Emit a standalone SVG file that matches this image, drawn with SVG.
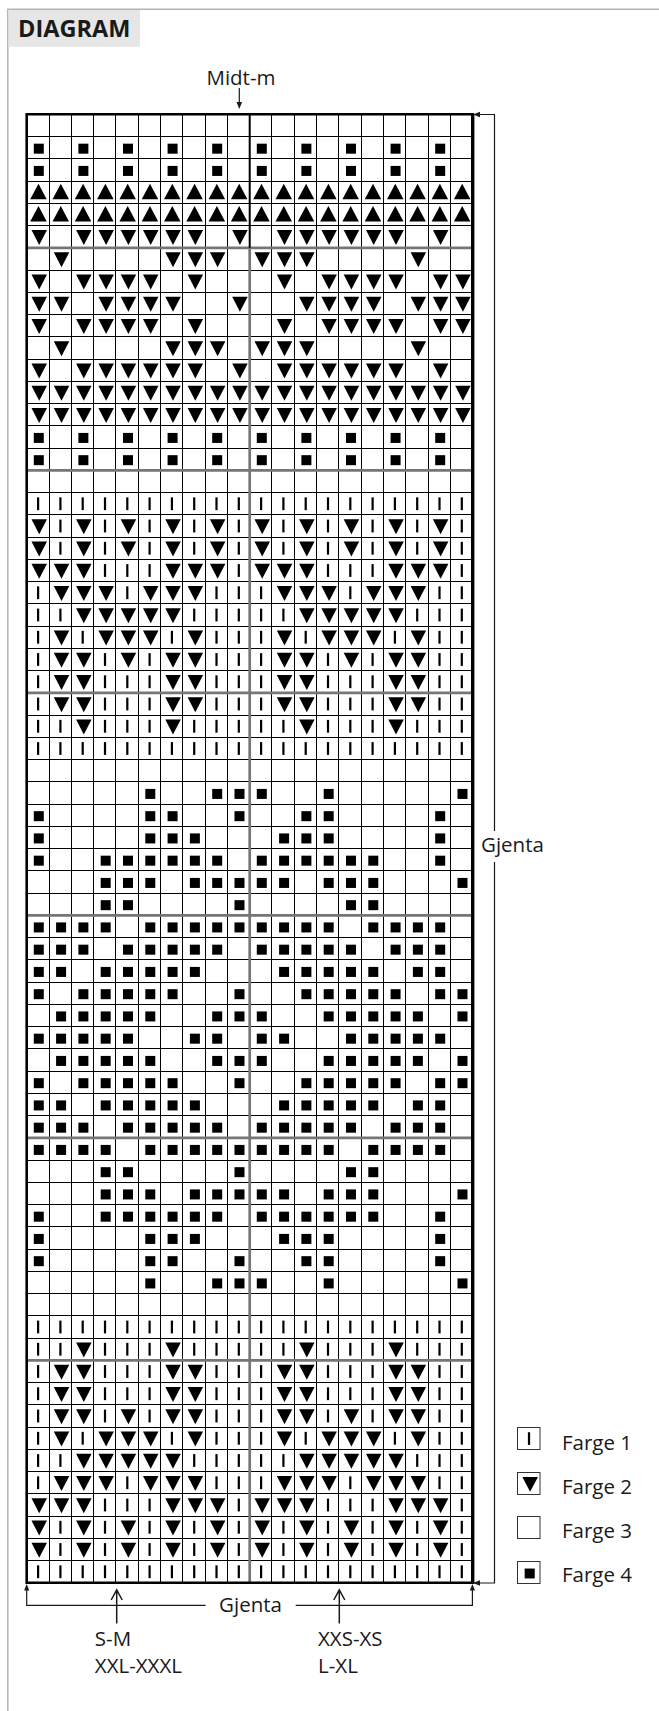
<svg xmlns="http://www.w3.org/2000/svg" width="659" height="1711" viewBox="0 0 659 1711">
<style>
text{font-family:"Open Sans","Liberation Sans",sans-serif;fill:#1a1a1a}
.lbl{font-size:20.5px}
.ln{fill:none;stroke:#000;vector-effect:non-scaling-stroke}
.gl{fill:none;stroke:#767676;vector-effect:non-scaling-stroke}
.conn{fill:none;stroke:#1a1a1a;stroke-width:1.2}
.arr{fill:none;stroke:#1a1a1a;stroke-width:1.5}
.ah{fill:#1a1a1a}
.lbox{fill:#fff;stroke:#333;stroke-width:1}
</style>
<defs>
<rect id="S" x="0.318" y="0.32" width="0.448" height="0.45"/>
<polygon id="D" points="0.215,0.202 0.91,0.202 0.561,0.876"/>
<polygon id="U" points="0.157,0.822 0.897,0.822 0.529,0.126"/>
<rect id="B" x="0.462" y="0.216" width="0.099" height="0.575"/>
<g id="hE"><use href="#S"/><use href="#S" x="2"/><use href="#S" x="4"/><use href="#S" x="6"/><use href="#S" x="8"/></g>
<g id="hU"><use href="#U"/><use href="#U" x="1"/><use href="#U" x="2"/><use href="#U" x="3"/><use href="#U" x="4"/><use href="#U" x="5"/><use href="#U" x="6"/><use href="#U" x="7"/><use href="#U" x="8"/><use href="#U" x="9"/></g>
<g id="hD"><use href="#D"/><use href="#D" x="1"/><use href="#D" x="2"/><use href="#D" x="3"/><use href="#D" x="4"/><use href="#D" x="5"/><use href="#D" x="6"/><use href="#D" x="7"/><use href="#D" x="8"/><use href="#D" x="9"/></g>
<g id="hB"><use href="#B"/><use href="#B" x="1"/><use href="#B" x="2"/><use href="#B" x="3"/><use href="#B" x="4"/><use href="#B" x="5"/><use href="#B" x="6"/><use href="#B" x="7"/><use href="#B" x="8"/><use href="#B" x="9"/></g>
<g id="h18"><use href="#D"/><use href="#B" x="1"/><use href="#D" x="2"/><use href="#B" x="3"/><use href="#D" x="4"/><use href="#B" x="5"/><use href="#D" x="6"/><use href="#B" x="7"/><use href="#D" x="8"/><use href="#B" x="9"/></g>
<g id="h20"><use href="#D"/><use href="#D" x="1"/><use href="#D" x="2"/><use href="#B" x="3"/><use href="#B" x="4"/><use href="#B" x="5"/><use href="#D" x="6"/><use href="#D" x="7"/><use href="#D" x="8"/><use href="#B" x="9"/></g>
<g id="h21"><use href="#B"/><use href="#D" x="1"/><use href="#D" x="2"/><use href="#D" x="3"/><use href="#B" x="4"/><use href="#D" x="5"/><use href="#D" x="6"/><use href="#D" x="7"/><use href="#B" x="8"/><use href="#B" x="9"/></g>
<g id="h22"><use href="#B"/><use href="#B" x="1"/><use href="#D" x="2"/><use href="#D" x="3"/><use href="#D" x="4"/><use href="#D" x="5"/><use href="#D" x="6"/><use href="#B" x="7"/><use href="#B" x="8"/><use href="#B" x="9"/></g>
<g id="h23"><use href="#B"/><use href="#D" x="1"/><use href="#B" x="2"/><use href="#D" x="3"/><use href="#D" x="4"/><use href="#D" x="5"/><use href="#B" x="6"/><use href="#D" x="7"/><use href="#B" x="8"/><use href="#B" x="9"/></g>
<g id="h24"><use href="#B"/><use href="#D" x="1"/><use href="#D" x="2"/><use href="#B" x="3"/><use href="#D" x="4"/><use href="#B" x="5"/><use href="#D" x="6"/><use href="#D" x="7"/><use href="#B" x="8"/><use href="#B" x="9"/></g>
<g id="h25"><use href="#B"/><use href="#D" x="1"/><use href="#D" x="2"/><use href="#B" x="3"/><use href="#B" x="4"/><use href="#B" x="5"/><use href="#D" x="6"/><use href="#D" x="7"/><use href="#B" x="8"/><use href="#B" x="9"/></g>
<g id="h27"><use href="#B"/><use href="#B" x="1"/><use href="#D" x="2"/><use href="#B" x="3"/><use href="#B" x="4"/><use href="#B" x="5"/><use href="#D" x="6"/><use href="#B" x="7"/><use href="#B" x="8"/><use href="#B" x="9"/></g>
<g id="fE"><use href="#hE"/><use href="#hE" x="10"/></g>
<g id="fU"><use href="#hU"/><use href="#hU" x="10"/></g>
<g id="fD"><use href="#hD"/><use href="#hD" x="10"/></g>
<g id="f17"><use href="#hB"/><use href="#hB" x="10"/></g>
<g id="f18"><use href="#h18"/><use href="#h18" x="10"/></g>
<g id="f20"><use href="#h20"/><use href="#h20" x="10"/></g>
<g id="f21"><use href="#h21"/><use href="#h21" x="10"/></g>
<g id="f22"><use href="#h22"/><use href="#h22" x="10"/></g>
<g id="f23"><use href="#h23"/><use href="#h23" x="10"/></g>
<g id="f24"><use href="#h24"/><use href="#h24" x="10"/></g>
<g id="f25"><use href="#h25"/><use href="#h25" x="10"/></g>
<g id="f27"><use href="#h27"/><use href="#h27" x="10"/></g>
<g id="rA"><use href="#D"/><use href="#D" x="2"/><use href="#D" x="3"/><use href="#D" x="4"/><use href="#D" x="5"/><use href="#D" x="6"/><use href="#D" x="7"/><use href="#D" x="9"/><use href="#D" x="11"/><use href="#D" x="12"/><use href="#D" x="13"/><use href="#D" x="14"/><use href="#D" x="15"/><use href="#D" x="16"/><use href="#D" x="18"/></g>
<g id="rB"><use href="#D" x="1"/><use href="#D" x="6"/><use href="#D" x="7"/><use href="#D" x="8"/><use href="#D" x="10"/><use href="#D" x="11"/><use href="#D" x="12"/><use href="#D" x="17"/></g>
<g id="rC"><use href="#D"/><use href="#D" x="2"/><use href="#D" x="3"/><use href="#D" x="4"/><use href="#D" x="5"/><use href="#D" x="7"/><use href="#D" x="11"/><use href="#D" x="13"/><use href="#D" x="14"/><use href="#D" x="15"/><use href="#D" x="16"/><use href="#D" x="18"/><use href="#D" x="19"/></g>
<g id="rD"><use href="#D"/><use href="#D" x="1"/><use href="#D" x="3"/><use href="#D" x="4"/><use href="#D" x="5"/><use href="#D" x="6"/><use href="#D" x="9"/><use href="#D" x="12"/><use href="#D" x="13"/><use href="#D" x="14"/><use href="#D" x="15"/><use href="#D" x="17"/><use href="#D" x="18"/><use href="#D" x="19"/></g>
<g id="m30"><use href="#S" x="5"/><use href="#S" x="8"/><use href="#S" x="9"/><use href="#S" x="10"/><use href="#S" x="13"/><use href="#S" x="19"/></g>
<g id="m31"><use href="#S"/><use href="#S" x="5"/><use href="#S" x="6"/><use href="#S" x="9"/><use href="#S" x="12"/><use href="#S" x="13"/><use href="#S" x="18"/></g>
<g id="m32"><use href="#S"/><use href="#S" x="5"/><use href="#S" x="6"/><use href="#S" x="7"/><use href="#S" x="11"/><use href="#S" x="12"/><use href="#S" x="13"/><use href="#S" x="18"/></g>
<g id="m33"><use href="#S"/><use href="#S" x="3"/><use href="#S" x="4"/><use href="#S" x="5"/><use href="#S" x="6"/><use href="#S" x="7"/><use href="#S" x="8"/><use href="#S" x="10"/><use href="#S" x="11"/><use href="#S" x="12"/><use href="#S" x="13"/><use href="#S" x="14"/><use href="#S" x="15"/><use href="#S" x="18"/></g>
<g id="m34"><use href="#S" x="3"/><use href="#S" x="4"/><use href="#S" x="5"/><use href="#S" x="7"/><use href="#S" x="8"/><use href="#S" x="9"/><use href="#S" x="10"/><use href="#S" x="11"/><use href="#S" x="13"/><use href="#S" x="14"/><use href="#S" x="15"/><use href="#S" x="19"/></g>
<g id="m35"><use href="#S" x="3"/><use href="#S" x="4"/><use href="#S" x="9"/><use href="#S" x="14"/><use href="#S" x="15"/></g>
<g id="m36"><use href="#S"/><use href="#S" x="1"/><use href="#S" x="2"/><use href="#S" x="3"/><use href="#S" x="5"/><use href="#S" x="6"/><use href="#S" x="7"/><use href="#S" x="8"/><use href="#S" x="9"/><use href="#S" x="10"/><use href="#S" x="11"/><use href="#S" x="12"/><use href="#S" x="13"/><use href="#S" x="15"/><use href="#S" x="16"/><use href="#S" x="17"/><use href="#S" x="18"/></g>
<g id="m37"><use href="#S"/><use href="#S" x="1"/><use href="#S" x="2"/><use href="#S" x="4"/><use href="#S" x="5"/><use href="#S" x="6"/><use href="#S" x="7"/><use href="#S" x="8"/><use href="#S" x="10"/><use href="#S" x="11"/><use href="#S" x="12"/><use href="#S" x="13"/><use href="#S" x="14"/><use href="#S" x="16"/><use href="#S" x="17"/><use href="#S" x="18"/></g>
<g id="m38"><use href="#S"/><use href="#S" x="1"/><use href="#S" x="3"/><use href="#S" x="4"/><use href="#S" x="5"/><use href="#S" x="6"/><use href="#S" x="7"/><use href="#S" x="11"/><use href="#S" x="12"/><use href="#S" x="13"/><use href="#S" x="14"/><use href="#S" x="15"/><use href="#S" x="17"/><use href="#S" x="18"/></g>
<g id="m39"><use href="#S"/><use href="#S" x="2"/><use href="#S" x="3"/><use href="#S" x="4"/><use href="#S" x="5"/><use href="#S" x="6"/><use href="#S" x="9"/><use href="#S" x="12"/><use href="#S" x="13"/><use href="#S" x="14"/><use href="#S" x="15"/><use href="#S" x="16"/><use href="#S" x="18"/><use href="#S" x="19"/></g>
<g id="m40"><use href="#S" x="1"/><use href="#S" x="2"/><use href="#S" x="3"/><use href="#S" x="4"/><use href="#S" x="5"/><use href="#S" x="8"/><use href="#S" x="9"/><use href="#S" x="10"/><use href="#S" x="13"/><use href="#S" x="14"/><use href="#S" x="15"/><use href="#S" x="16"/><use href="#S" x="17"/><use href="#S" x="19"/></g>
<g id="m41"><use href="#S"/><use href="#S" x="1"/><use href="#S" x="2"/><use href="#S" x="3"/><use href="#S" x="4"/><use href="#S" x="7"/><use href="#S" x="8"/><use href="#S" x="10"/><use href="#S" x="11"/><use href="#S" x="14"/><use href="#S" x="15"/><use href="#S" x="16"/><use href="#S" x="17"/><use href="#S" x="18"/></g>
</defs>
<rect width="659" height="1711" fill="#fff"/>
<path d="M7.8 1711V9.3H659" fill="none" stroke="#b3b3b3" stroke-width="1.5"/>
<g id="header">
<rect x="8.5" y="10" width="131.5" height="36.8" fill="#e6e6e6"/>
<text x="18" y="36.7" font-size="23.5" font-weight="bold">DIAGRAM</text>
</g>
<g id="chart" transform="translate(26.7 114.3) scale(22.3 22.25)">
<rect width="20" height="66" fill="#fff"/>
<g id="cells">
<use href="#fE" y="1"/><use href="#fE" y="2"/>
<use href="#fU" y="3"/><use href="#fU" y="4"/>
<use href="#rA" y="5"/><use href="#rB" y="6"/><use href="#rC" y="7"/><use href="#rD" y="8"/><use href="#rC" y="9"/><use href="#rB" y="10"/><use href="#rA" y="11"/>
<use href="#fD" y="12"/><use href="#fD" y="13"/>
<use href="#fE" y="14"/><use href="#fE" y="15"/>
<use href="#f17" y="17"/><use href="#f18" y="18"/><use href="#f18" y="19"/><use href="#f20" y="20"/><use href="#f21" y="21"/><use href="#f22" y="22"/><use href="#f23" y="23"/><use href="#f24" y="24"/><use href="#f25" y="25"/><use href="#f25" y="26"/><use href="#f27" y="27"/><use href="#f17" y="28"/>
<use href="#m30" y="30"/><use href="#m31" y="31"/><use href="#m32" y="32"/><use href="#m33" y="33"/><use href="#m34" y="34"/><use href="#m35" y="35"/><use href="#m36" y="36"/><use href="#m37" y="37"/><use href="#m38" y="38"/><use href="#m39" y="39"/><use href="#m40" y="40"/><use href="#m41" y="41"/>
<use href="#m40" y="42"/><use href="#m39" y="43"/><use href="#m38" y="44"/><use href="#m37" y="45"/><use href="#m36" y="46"/><use href="#m35" y="47"/><use href="#m34" y="48"/><use href="#m33" y="49"/><use href="#m32" y="50"/><use href="#m31" y="51"/><use href="#m30" y="52"/>
<use href="#f17" y="54"/><use href="#f27" y="55"/><use href="#f25" y="56"/><use href="#f25" y="57"/><use href="#f24" y="58"/><use href="#f23" y="59"/><use href="#f22" y="60"/><use href="#f21" y="61"/><use href="#f20" y="62"/><use href="#f18" y="63"/><use href="#f18" y="64"/><use href="#f17" y="65"/>
</g>
<path class="ln" stroke-width="1" shape-rendering="crispEdges" d="M1 0V66M2 0V66M3 0V66M4 0V66M5 0V66M6 0V66M7 0V66M8 0V66M9 0V66M11 0V66M12 0V66M13 0V66M14 0V66M15 0V66M16 0V66M17 0V66M18 0V66M19 0V66M0 1H20M0 2H20M0 3H20M0 4H20M0 5H20M0 7H20M0 8H20M0 9H20M0 10H20M0 11H20M0 12H20M0 13H20M0 14H20M0 15H20M0 17H20M0 18H20M0 19H20M0 20H20M0 21H20M0 22H20M0 23H20M0 24H20M0 25H20M0 27H20M0 28H20M0 29H20M0 30H20M0 31H20M0 32H20M0 33H20M0 34H20M0 35H20M0 37H20M0 38H20M0 39H20M0 40H20M0 41H20M0 42H20M0 43H20M0 44H20M0 45H20M0 47H20M0 48H20M0 49H20M0 50H20M0 51H20M0 52H20M0 53H20M0 54H20M0 55H20M0 57H20M0 58H20M0 59H20M0 60H20M0 61H20M0 62H20M0 63H20M0 64H20M0 65H20"/>
<path class="gl" stroke-width="2.7" d="M0 6H20M0 16H20M0 26H20M0 36H20M0 46H20M0 56H20M10 6V66"/>
<path class="ln" stroke-width="2" d="M10 0V6"/>
<rect class="ln" width="20" height="66" stroke-width="2.6"/>
<path class="ln" stroke-width="3.4" d="M20 0V66"/>
</g>
<g id="connectors">
<path class="conn" d="M239.3 88V103"/>
<polygon class="ah" points="236.5,102 242.1,102 239.3,109"/>
<path class="conn" d="M474 114.5H494.5V831M494.5 862V1583H474"/>
<polygon class="ah" points="473,114.5 480,111.8 480,117.2"/>
<polygon class="ah" points="473,1583 480,1580.3 480,1585.7"/>
<path class="conn" d="M26.7 1588V1605.3H205.6M295.7 1605.3H472.4V1588"/>
<polygon class="ah" points="26.7,1584 24.1,1590.5 29.3,1590.5"/>
<polygon class="ah" points="472.4,1584 469.8,1590.5 475,1590.5"/>
<path class="arr" d="M116.7 1590V1623.5M111.2 1600L116.7 1589.8L122.2 1600"/>
<path class="arr" d="M339.3 1590V1623.5M333.8 1600L339.3 1589.8L344.8 1600"/>
</g>
<g id="labels">
<text class="lbl" x="241" y="85" text-anchor="middle">Midt-m</text>
<text class="lbl" x="481" y="852">Gjenta</text>
<text class="lbl" x="250.5" y="1612" text-anchor="middle">Gjenta</text>
<text class="lbl" x="94.8" y="1645.7">S-M</text>
<text class="lbl" x="94.8" y="1673">XXL-XXXL</text>
<text class="lbl" x="318" y="1645.7">XXS-XS</text>
<text class="lbl" x="318" y="1673">L-XL</text>
</g>
<g id="legend">
<g id="legend-farge1"><rect class="lbox" x="517.5" y="1427.5" width="22.5" height="22"/><use href="#B" transform="translate(517.5 1427.5) scale(22.5 22)"/><text class="lbl" x="562" y="1450">Farge 1</text></g>
<g id="legend-farge2"><rect class="lbox" x="517.5" y="1472.5" width="22.5" height="22"/><use href="#D" transform="translate(517.5 1472.5) scale(22.5 22)"/><text class="lbl" x="562" y="1493.5">Farge 2</text></g>
<g id="legend-farge3"><rect class="lbox" x="517.5" y="1516.5" width="22.5" height="22"/><text class="lbl" x="562" y="1537.7">Farge 3</text></g>
<g id="legend-farge4"><rect class="lbox" x="517.5" y="1561.5" width="22.5" height="22"/><use href="#S" transform="translate(517.5 1561.5) scale(22.5 22)"/><text class="lbl" x="562" y="1582">Farge 4</text></g>
</g>
</svg>
